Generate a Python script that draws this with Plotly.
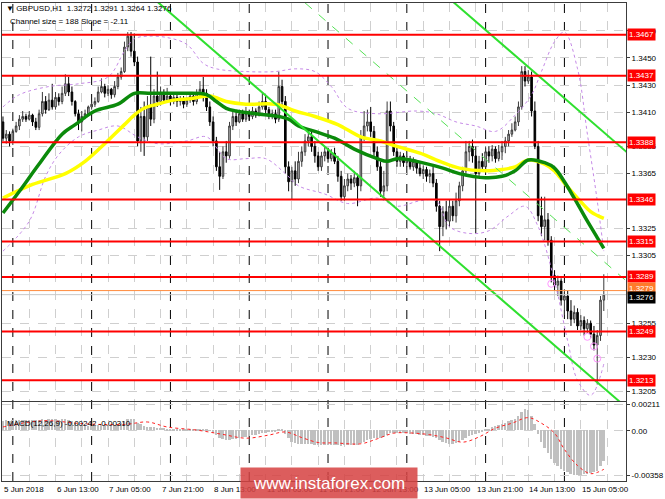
import plotly.graph_objects as go
from plotly.subplots import make_subplots

# GBPUSD H1, 5 Jun 21:00 .. 15 Jun 12:00 (one entry per bar)
opens = [
    1.3403, 1.3391, 1.3394, 1.3389, 1.3396, 1.3400, 1.3405, 1.3407, 1.3405, 1.3408,
    1.3403, 1.3399, 1.3409, 1.3418, 1.3412, 1.3419, 1.3414, 1.3421, 1.3418, 1.3424,
    1.3431, 1.3425, 1.3418, 1.3409, 1.3403, 1.3407, 1.3409, 1.3414, 1.3416, 1.3418,
    1.3425, 1.3429, 1.3424, 1.3427, 1.3423, 1.3429, 1.3436, 1.3440, 1.3458, 1.3466,
    1.3455, 1.3447, 1.3389, 1.3407, 1.3392, 1.3414, 1.3405, 1.3422, 1.3418, 1.3424,
    1.3419, 1.3422, 1.3418, 1.3421, 1.3418, 1.3420, 1.3416, 1.3419, 1.3422, 1.3418,
    1.3424, 1.3427, 1.3424, 1.3414, 1.3403, 1.3389, 1.3370, 1.3363, 1.3381, 1.3378,
    1.3400, 1.3407, 1.3403, 1.3409, 1.3405, 1.3409, 1.3407, 1.3411, 1.3408, 1.3414,
    1.3418, 1.3412, 1.3407, 1.3409, 1.3405, 1.3429, 1.3418, 1.3370, 1.3359, 1.3367,
    1.3361, 1.3374, 1.3381, 1.3389, 1.3392, 1.3385, 1.3378, 1.3370, 1.3378, 1.3381,
    1.3376, 1.3380, 1.3374, 1.3363, 1.3348, 1.3356, 1.3361, 1.3358, 1.3362, 1.3356,
    1.3392, 1.3400, 1.3403, 1.3396, 1.3381, 1.3370, 1.3352, 1.3356, 1.3411, 1.3400,
    1.3381, 1.3374, 1.3378, 1.3373, 1.3375, 1.3370, 1.3374, 1.3369, 1.3365, 1.3368,
    1.3363, 1.3365, 1.3358, 1.3341, 1.3326, 1.3337, 1.3330, 1.3341, 1.3334, 1.3345,
    1.3356, 1.3367, 1.3381, 1.3385, 1.3378, 1.3365, 1.3374, 1.3370, 1.3381, 1.3378,
    1.3383, 1.3376, 1.3381, 1.3385, 1.3389, 1.3394, 1.3397, 1.3403, 1.3414, 1.3440,
    1.3433, 1.3436, 1.3411, 1.3385, 1.3334, 1.3326, 1.3331, 1.3316, 1.3290, 1.3283,
    1.3286, 1.3272, 1.3275, 1.3264, 1.3258, 1.3263, 1.3253, 1.3257, 1.3251, 1.3255,
    1.3247, 1.3239, 1.3246, 1.3272,
]
highs = [
    1.3407, 1.3397, 1.3396, 1.3398, 1.3403, 1.3408, 1.3411, 1.3409, 1.3411, 1.3409,
    1.3406, 1.3412, 1.3425, 1.3422, 1.3424, 1.3431, 1.3425, 1.3424, 1.3429, 1.3438,
    1.3436, 1.3429, 1.3419, 1.3412, 1.3411, 1.3412, 1.3415, 1.3418, 1.3421, 1.3429,
    1.3435, 1.3431, 1.3430, 1.3428, 1.3433, 1.3439, 1.3443, 1.3462, 1.3469, 1.3469,
    1.3468, 1.3451, 1.3414, 1.3418, 1.3422, 1.3451, 1.3427, 1.3440, 1.3429, 1.3427,
    1.3428, 1.3425, 1.3424, 1.3423, 1.3422, 1.3422, 1.3421, 1.3425, 1.3424, 1.3427,
    1.3433, 1.3436, 1.3427, 1.3418, 1.3407, 1.3392, 1.3381, 1.3385, 1.3389, 1.3403,
    1.3411, 1.3411, 1.3412, 1.3412, 1.3414, 1.3412, 1.3414, 1.3413, 1.3418, 1.3425,
    1.3422, 1.3414, 1.3412, 1.3412, 1.3440, 1.3434, 1.3422, 1.3374, 1.3370, 1.3374,
    1.3381, 1.3385, 1.3394, 1.3398, 1.3396, 1.3389, 1.3381, 1.3381, 1.3385, 1.3384,
    1.3383, 1.3384, 1.3378, 1.3367, 1.3361, 1.3365, 1.3364, 1.3367, 1.3365, 1.3397,
    1.3411, 1.3412, 1.3414, 1.3400, 1.3385, 1.3374, 1.3367, 1.3418, 1.3418, 1.3403,
    1.3385, 1.3381, 1.3380, 1.3378, 1.3378, 1.3377, 1.3375, 1.3373, 1.3371, 1.3370,
    1.3368, 1.3370, 1.3361, 1.3345, 1.3341, 1.3345, 1.3346, 1.3345, 1.3351, 1.3359,
    1.3370, 1.3389, 1.3389, 1.3390, 1.3385, 1.3378, 1.3380, 1.3385, 1.3385, 1.3386,
    1.3385, 1.3386, 1.3389, 1.3392, 1.3397, 1.3402, 1.3407, 1.3418, 1.3444, 1.3444,
    1.3441, 1.3440, 1.3418, 1.3389, 1.3348, 1.3348, 1.3336, 1.3319, 1.3294, 1.3290,
    1.3288, 1.3280, 1.3279, 1.3272, 1.3268, 1.3266, 1.3261, 1.3260, 1.3258, 1.3257,
    1.3253, 1.3250, 1.3275, 1.3291,
]
lows = [
    1.3389, 1.3387, 1.3385, 1.3386, 1.3395, 1.3397, 1.3403, 1.3403, 1.3404, 1.3400,
    1.3397, 1.3397, 1.3407, 1.3409, 1.3411, 1.3412, 1.3412, 1.3415, 1.3416, 1.3422,
    1.3422, 1.3415, 1.3407, 1.3397, 1.3396, 1.3405, 1.3408, 1.3412, 1.3414, 1.3417,
    1.3424, 1.3421, 1.3422, 1.3420, 1.3421, 1.3427, 1.3434, 1.3439, 1.3455, 1.3451,
    1.3444, 1.3385, 1.3381, 1.3378, 1.3389, 1.3400, 1.3402, 1.3414, 1.3415, 1.3417,
    1.3418, 1.3415, 1.3416, 1.3414, 1.3415, 1.3413, 1.3414, 1.3417, 1.3415, 1.3416,
    1.3421, 1.3418, 1.3411, 1.3400, 1.3385, 1.3367, 1.3353, 1.3361, 1.3373, 1.3376,
    1.3397, 1.3400, 1.3402, 1.3403, 1.3403, 1.3404, 1.3405, 1.3406, 1.3407, 1.3412,
    1.3409, 1.3405, 1.3405, 1.3402, 1.3403, 1.3415, 1.3365, 1.3352, 1.3346, 1.3356,
    1.3358, 1.3370, 1.3378, 1.3385, 1.3381, 1.3373, 1.3367, 1.3367, 1.3374, 1.3373,
    1.3374, 1.3372, 1.3359, 1.3345, 1.3345, 1.3352, 1.3353, 1.3355, 1.3341, 1.3352,
    1.3389, 1.3396, 1.3392, 1.3378, 1.3367, 1.3348, 1.3348, 1.3352, 1.3396, 1.3378,
    1.3370, 1.3370, 1.3370, 1.3370, 1.3368, 1.3367, 1.3365, 1.3363, 1.3361, 1.3359,
    1.3358, 1.3355, 1.3337, 1.3308, 1.3319, 1.3324, 1.3326, 1.3330, 1.3329, 1.3341,
    1.3352, 1.3363, 1.3374, 1.3373, 1.3321, 1.3362, 1.3367, 1.3367, 1.3373, 1.3374,
    1.3373, 1.3374, 1.3375, 1.3380, 1.3385, 1.3392, 1.3396, 1.3400, 1.3412, 1.3429,
    1.3431, 1.3407, 1.3383, 1.3330, 1.3319, 1.3316, 1.3312, 1.3285, 1.3279, 1.3275,
    1.3268, 1.3261, 1.3258, 1.3253, 1.3255, 1.3250, 1.3250, 1.3246, 1.3248, 1.3244,
    1.3235, 1.3210, 1.3242, 1.3264,
]
closes = [
    1.3391, 1.3394, 1.3389, 1.3396, 1.3400, 1.3405, 1.3407, 1.3405, 1.3408, 1.3403,
    1.3399, 1.3409, 1.3418, 1.3412, 1.3419, 1.3414, 1.3421, 1.3418, 1.3424, 1.3431,
    1.3425, 1.3418, 1.3409, 1.3403, 1.3407, 1.3409, 1.3414, 1.3416, 1.3418, 1.3425,
    1.3429, 1.3424, 1.3427, 1.3423, 1.3429, 1.3436, 1.3440, 1.3458, 1.3466, 1.3455,
    1.3447, 1.3389, 1.3407, 1.3392, 1.3414, 1.3405, 1.3422, 1.3418, 1.3424, 1.3419,
    1.3422, 1.3418, 1.3421, 1.3418, 1.3420, 1.3416, 1.3419, 1.3422, 1.3418, 1.3424,
    1.3427, 1.3424, 1.3414, 1.3403, 1.3389, 1.3370, 1.3363, 1.3381, 1.3378, 1.3400,
    1.3407, 1.3403, 1.3409, 1.3405, 1.3409, 1.3407, 1.3411, 1.3408, 1.3414, 1.3418,
    1.3412, 1.3407, 1.3409, 1.3405, 1.3429, 1.3418, 1.3370, 1.3359, 1.3367, 1.3361,
    1.3374, 1.3381, 1.3389, 1.3392, 1.3385, 1.3378, 1.3370, 1.3378, 1.3381, 1.3376,
    1.3380, 1.3374, 1.3363, 1.3348, 1.3356, 1.3361, 1.3358, 1.3362, 1.3356, 1.3392,
    1.3400, 1.3403, 1.3396, 1.3381, 1.3370, 1.3352, 1.3356, 1.3411, 1.3400, 1.3381,
    1.3374, 1.3378, 1.3373, 1.3375, 1.3370, 1.3374, 1.3369, 1.3365, 1.3368, 1.3363,
    1.3365, 1.3358, 1.3341, 1.3326, 1.3337, 1.3330, 1.3341, 1.3334, 1.3345, 1.3356,
    1.3367, 1.3381, 1.3385, 1.3378, 1.3365, 1.3374, 1.3370, 1.3381, 1.3378, 1.3383,
    1.3376, 1.3381, 1.3385, 1.3389, 1.3394, 1.3397, 1.3403, 1.3414, 1.3440, 1.3433,
    1.3436, 1.3411, 1.3385, 1.3334, 1.3326, 1.3331, 1.3316, 1.3290, 1.3283, 1.3286,
    1.3272, 1.3275, 1.3264, 1.3258, 1.3263, 1.3253, 1.3257, 1.3251, 1.3255, 1.3247,
    1.3239, 1.3246, 1.3272, 1.3276,
]

# MACD(12,26,9) main line (histogram)
macd_hist = [
    0.00078, 0.00080, 0.00079, 0.00081, 0.00083, 0.00085, 0.00086, 0.00085,
    0.00086, 0.00083, 0.00080, 0.00082, 0.00088, 0.00087, 0.00089, 0.00088,
    0.00089, 0.00087, 0.00088, 0.00090, 0.00085, 0.00075, 0.00062, 0.00050,
    0.00045, 0.00040, 0.00038, 0.00036, 0.00036, 0.00040, 0.00044, 0.00040, 0.00040,
    0.00040, 0.00045, 0.00052, 0.00060, 0.00075, 0.00088, 0.00092, 0.00088,
    0.00062, 0.00048, 0.00035, 0.00030,
    0.00026, 0.00025, 0.00022, 0.00020, 0.00017, 0.00015, 0.00013, 0.00012, 0.00011,
    0.00010, 0.00008, 0.00007, 0.00007, 0.00006, 0.00006, 0.00007, 0.00008, 0.00004,
    -0.00004,
    -0.00018, -0.00040, -0.00062, -0.00072, -0.00080, -0.00078, -0.00072, -0.00068,
    -0.00062, -0.00055, -0.00050, -0.00045,
    -0.00040, -0.00036, -0.00030, -0.00022, -0.00018, -0.00014, -0.00010, -0.00006,
    0.00010,
    0.00008, -0.00030, -0.00065, -0.00090,
    -0.00105, -0.00110, -0.00112, -0.00110, -0.00108, -0.00110, -0.00115, -0.00118,
    -0.00118, -0.00116, -0.00115, -0.00114, -0.00115, -0.00118, -0.00122, -0.00120,
    -0.00118, -0.00116, -0.00114, -0.00115, -0.00105, -0.00092,
    -0.00080, -0.00070, -0.00065, -0.00060, -0.00060, -0.00056,
    -0.00035, -0.00022, -0.00018, -0.00018, -0.00020, -0.00022, -0.00024, -0.00028,
    -0.00030, -0.00032, -0.00035, -0.00038, -0.00042, -0.00045, -0.00050, -0.00060,
    -0.00080,
    -0.00095, -0.00105, -0.00110, -0.00112, -0.00105,
    -0.00095, -0.00080, -0.00062, -0.00048, -0.00035, -0.00030, -0.00020, -0.00010,
    0.00004, 0.00015, 0.00025, 0.00035, 0.00045, 0.00052, 0.00062, 0.00072, 0.00082,
    0.00095, 0.00115, 0.00150, 0.00168,
    0.00160, 0.00115, 0.00055,
    -0.00030, -0.00090, -0.00140, -0.00185, -0.00230, -0.00265, -0.00290, -0.00310,
    -0.00325,
    -0.00338, -0.00348, -0.00355, -0.00358, -0.00355, -0.00352, -0.00350, -0.00345,
    -0.00338,
    -0.00325, -0.00290, -0.00242,
]

# MACD signal line (read at a few bars)
signal_bars = [0, 12, 25, 37, 44, 50, 59, 67, 74, 81, 86, 91, 96, 101, 109, 114,
               119, 124, 130, 135, 140, 145, 150, 155, 160, 164, 168, 171, 175, 179, 183]
signal_vals = [0.00030, 0.00080, 0.00055, 0.00050, 0.00070, 0.00030, 0.00005,
               -0.00030, -0.00060, -0.00035, -0.00010, -0.00055, -0.00095, -0.00098,
               -0.00105, -0.00065, -0.00020, -0.00018, -0.00032, -0.00058, -0.00092,
               -0.00050, 0.00020, 0.00060, 0.00105, 0.00060, -0.00020, -0.00150,
               -0.00280, -0.00345, -0.00310]

# moving averages (read at a few bars)
green_bars = [0, 5, 11, 18, 22, 28, 35, 40, 45, 55, 62, 65, 68, 71, 77, 84, 87, 90,
              95, 101, 107, 114, 117, 120, 126, 134, 139, 147, 152, 156, 160, 165,
              168, 171, 174, 178, 181, 183]
green_vals = [1.3336, 1.3352, 1.3372, 1.3394, 1.3401, 1.3411, 1.3416, 1.3424, 1.3424,
              1.3424, 1.3423, 1.3418, 1.3413, 1.3411, 1.3409, 1.3407, 1.3405, 1.3400,
              1.3396, 1.3391, 1.3383, 1.3376, 1.3374, 1.3376, 1.3374, 1.3369, 1.3365,
              1.3362, 1.3363, 1.3367, 1.3375, 1.3373, 1.3369, 1.3359, 1.3347, 1.3330,
              1.3318, 1.3310]
yellow_bars = [0, 9, 19, 25, 31, 37, 40, 43, 47, 52, 57, 63, 68, 74, 83, 89, 95, 102,
               109, 115, 120, 127, 134, 139, 147, 152, 156, 160, 165, 168, 171, 175,
               179, 183]
yellow_vals = [1.3347, 1.3357, 1.3365, 1.3374, 1.3387, 1.3401, 1.3408, 1.3413, 1.3416,
               1.3419, 1.3420, 1.3422, 1.3418, 1.3416, 1.3416, 1.3411, 1.3407, 1.3401,
               1.3392, 1.3389, 1.3385, 1.3380, 1.3373, 1.3369, 1.3367, 1.3368, 1.3370,
               1.3375, 1.3372, 1.3367, 1.3358, 1.3347, 1.3337, 1.3332]

# bollinger bands (read at a few bars)
bb_up_bars = [0, 5, 14, 23, 32, 37, 40, 44, 50, 56, 61, 65, 74, 83, 89, 95, 100, 105,
              114, 126, 132, 138, 144, 150, 156, 161, 164, 168, 171, 175, 178, 181, 183]
bb_up_vals = [1.3414, 1.3423, 1.3429, 1.3431, 1.3436, 1.3455, 1.3464, 1.3466, 1.3465,
              1.3460, 1.3446, 1.3442, 1.3440, 1.3440, 1.3442, 1.3440, 1.3429, 1.3413,
              1.3409, 1.3411, 1.3409, 1.3403, 1.3400, 1.3396, 1.3408, 1.3423, 1.3440,
              1.3462, 1.3469, 1.3442, 1.3394, 1.3345, 1.3308]
bb_lo_bars = [0, 8, 13, 17, 23, 29, 35, 41, 47, 56, 62, 68, 74, 80, 86, 90, 98, 105,
              114, 120, 127, 132, 136, 142, 148, 154, 159, 163, 168, 172, 175, 179, 183]
bb_lo_vals = [1.3308, 1.3330, 1.3363, 1.3379, 1.3392, 1.3397, 1.3400, 1.3392, 1.3387,
              1.3389, 1.3392, 1.3376, 1.3376, 1.3376, 1.3365, 1.3356, 1.3350, 1.3343,
              1.3347, 1.3341, 1.3345, 1.3345, 1.3326, 1.3321, 1.3323, 1.3334, 1.3341,
              1.3326, 1.3286, 1.3242, 1.3213, 1.3202, 1.3225]

# equidistant channel anchors (bar, price)
chan_low_bars = [45, 192]
chan_low_vals = [1.34955, 1.31886]
chan_high_bars = [136, 192]
chan_high_vals = [1.34935, 1.33766]
chan_mid_bars = [92, 192]
chan_mid_vals = [1.34905, 1.32816]

levels = [1.3467, 1.3437, 1.3388, 1.3346, 1.3315, 1.3289, 1.3249, 1.3213]
ask_price = 1.3279
bid_price = 1.3276

marker_bars = [167, 178, 180, 181]
marker_vals = [1.3284, 1.3245, 1.3238, 1.3229]

price_ticks = [1.3470, 1.3450, 1.3430, 1.3410, 1.3385, 1.3365, 1.3325,
               1.3305, 1.3255, 1.3230, 1.3205]
macd_ticks = [0.00211, 0.0, -0.00358]
macd_tick_text = ["0.00211", "0.00", "-0.00358"]

time_labels = ["5 Jun 2018", "6 Jun 13:00", "7 Jun 05:00", "7 Jun 21:00",
               "8 Jun 13:00", "11 Jun 05:00", "11 Jun 21:00", "12 Jun 13:00",
               "13 Jun 05:00", "13 Jun 21:00", "14 Jun 13:00", "15 Jun 05:00"]
time_label_bars = [0, 16, 32, 48, 64, 80, 96, 112, 128, 144, 160, 176]
day_start_bars = [3, 27, 51, 75, 99, 123, 147, 171]

FONT = "Liberation Sans"
bars = list(range(len(closes)))

fig = make_subplots(rows=2, cols=1, shared_xaxes=True)

fig.add_trace(go.Candlestick(
    x=bars, open=opens, high=highs, low=lows, close=closes,
    increasing=dict(line=dict(color="#3a3a3a", width=1), fillcolor="#c4c4c4"),
    decreasing=dict(line=dict(color="#000000", width=1), fillcolor="#000000"),
    showlegend=False, hoverinfo="skip"), row=1, col=1)

# bands
for bx, by in [(bb_up_bars, bb_up_vals), (bb_lo_bars, bb_lo_vals)]:
    fig.add_trace(go.Scatter(x=bx, y=by, mode="lines", line_shape="spline",
                             line=dict(color="#c58ae6", width=1, dash="dot"),
                             showlegend=False, hoverinfo="skip"), row=1, col=1)

# moving averages
fig.add_trace(go.Scatter(x=yellow_bars, y=yellow_vals, mode="lines", line_shape="spline",
                         line=dict(color="#ffff00", width=3.5),
                         showlegend=False, hoverinfo="skip"), row=1, col=1)
fig.add_trace(go.Scatter(x=green_bars, y=green_vals, mode="lines", line_shape="spline",
                         line=dict(color="#0b8a0b", width=3.5),
                         showlegend=False, hoverinfo="skip"), row=1, col=1)

# channel
fig.add_trace(go.Scatter(x=chan_mid_bars, y=chan_mid_vals, mode="lines",
                         line=dict(color="#55e055", width=1, dash="dash"),
                         showlegend=False, hoverinfo="skip"), row=1, col=1)
for bx, by in [(chan_low_bars, chan_low_vals), (chan_high_bars, chan_high_vals)]:
    fig.add_trace(go.Scatter(x=bx, y=by, mode="lines",
                             line=dict(color="#2fe02f", width=2),
                             showlegend=False, hoverinfo="skip"), row=1, col=1)

fig.add_trace(go.Scatter(x=marker_bars, y=marker_vals, mode="markers",
                         marker=dict(symbol="circle-open", size=7,
                                     line=dict(color="#e8603c", width=1)),
                         showlegend=False, hoverinfo="skip"), row=1, col=1)

# MACD pane
fig.add_trace(go.Bar(x=bars, y=macd_hist, marker=dict(color="#c0c0c0", line_width=0),
                     width=0.6, showlegend=False, hoverinfo="skip"), row=2, col=1)
fig.add_trace(go.Scatter(x=signal_bars, y=signal_vals, mode="lines", line_shape="spline",
                         line=dict(color="#ff2020", width=1, dash="dot"),
                         showlegend=False, hoverinfo="skip"), row=2, col=1)

# level lines and their labels
for lvl in levels:
    fig.add_shape(type="line", xref="paper", x0=0, x1=1, yref="y", y0=lvl, y1=lvl,
                  line=dict(color="#ff0000", width=2))
fig.add_shape(type="line", xref="paper", x0=0, x1=1, yref="y", y0=ask_price, y1=ask_price,
              line=dict(color="#ff8a3c", width=1))
fig.add_shape(type="line", xref="paper", x0=0, x1=1, yref="y", y0=bid_price, y1=bid_price,
              line=dict(color="#c8c8c8", width=1))

for b in day_start_bars:
    fig.add_shape(type="line", xref="x", x0=b, x1=b, yref="paper", y0=0, y1=1,
                  line=dict(color="#000000", width=1, dash="dash"), layer="below")

lab = dict(xref="paper", x=1, xanchor="left", xshift=1, yref="y", showarrow=False,
           font=dict(family=FONT, size=8, color="white"), borderpad=1)
for lvl in levels:
    fig.add_annotation(y=lvl, text=f"{lvl:.4f}", bgcolor="#ff0000", **lab)
fig.add_annotation(y=ask_price, text=f"{ask_price:.4f}", bgcolor="#ff7a2a", yshift=2, **lab)
fig.add_annotation(y=bid_price, text=f"{bid_price:.4f}", bgcolor="#000000", yshift=-3, **lab)

# header texts
fig.add_annotation(xref="paper", yref="paper", x=0.004, y=0.988, xanchor="left",
                   yanchor="middle", showarrow=False,
                   text="\u25BC GBPUSD,H1  1.3272 1.3291 1.3264 1.3276",
                   font=dict(family=FONT, size=8, color="black"))
fig.add_annotation(xref="paper", yref="paper", x=0.01, y=0.962, xanchor="left",
                   yanchor="middle", showarrow=False,
                   text="Channel size = 188 Slope = -2.11",
                   font=dict(family=FONT, size=8, color="black"))
fig.add_annotation(xref="paper", yref="paper", x=0.005, y=0.121, xanchor="left",
                   yanchor="middle", showarrow=False,
                   text="MACD(12,26,9) -0.00242 -0.00310",
                   font=dict(family=FONT, size=8, color="black"))

# time labels (left aligned like the terminal)
for b, t in zip(time_label_bars, time_labels):
    fig.add_annotation(xref="x2", yref="paper", x=b, y=-0.017, xanchor="left",
                       xshift=-1, yanchor="middle", showarrow=False, text=t,
                       font=dict(family=FONT, size=8, color="black"))

# watermark, added last so it sits over the time labels
fig.add_annotation(xref="paper", yref="paper", x=0.5246, y=-0.0042,
                   xanchor="center", yanchor="middle", showarrow=False,
                   text="www.instaforex.com", width=176, height=30,
                   bgcolor="rgba(214,66,66,0.86)", borderpad=0,
                   font=dict(family=FONT, size=17, color="white"))

x_range = [-0.3, 189.76]
axis_common = dict(showline=True, linecolor="#3c3c3c", linewidth=1, mirror=True,
                   gridcolor="#cfcfcf", griddash="dash", zeroline=False)

fig.update_layout(
    width=665, height=499,
    margin=dict(l=2, r=32, t=1, b=18),
    paper_bgcolor="white", plot_bgcolor="white",
    bargap=0, showlegend=False,
    xaxis=dict(range=x_range, domain=[0, 1], tickvals=list(range(0, 190, 8)),
               showticklabels=False, ticks="", showgrid=True,
               rangeslider=dict(visible=False), **axis_common),
    xaxis2=dict(range=x_range, domain=[0, 1], tickvals=list(range(0, 190, 8)),
                showticklabels=False, ticks="", showgrid=True, **axis_common),
    yaxis=dict(domain=[0.1667, 1.0], range=[1.31976, 1.34904], side="right",
               tickvals=price_ticks, ticktext=[f"{v:.4f}" for v in price_ticks],
               ticks="outside", ticklen=3, tickcolor="#3c3c3c",
               tickfont=dict(family=FONT, size=8, color="black"), **axis_common),
    yaxis2=dict(domain=[0, 0.1646], range=[-0.00404, 0.00228], side="right",
                tickvals=macd_ticks, ticktext=macd_tick_text,
                ticks="outside", ticklen=3, tickcolor="#3c3c3c",
                tickfont=dict(family=FONT, size=8, color="black"), **axis_common),
)

fig.write_html("out.html", config={"displayModeBar": False},
               post_script="document.body.style.margin='0';")
